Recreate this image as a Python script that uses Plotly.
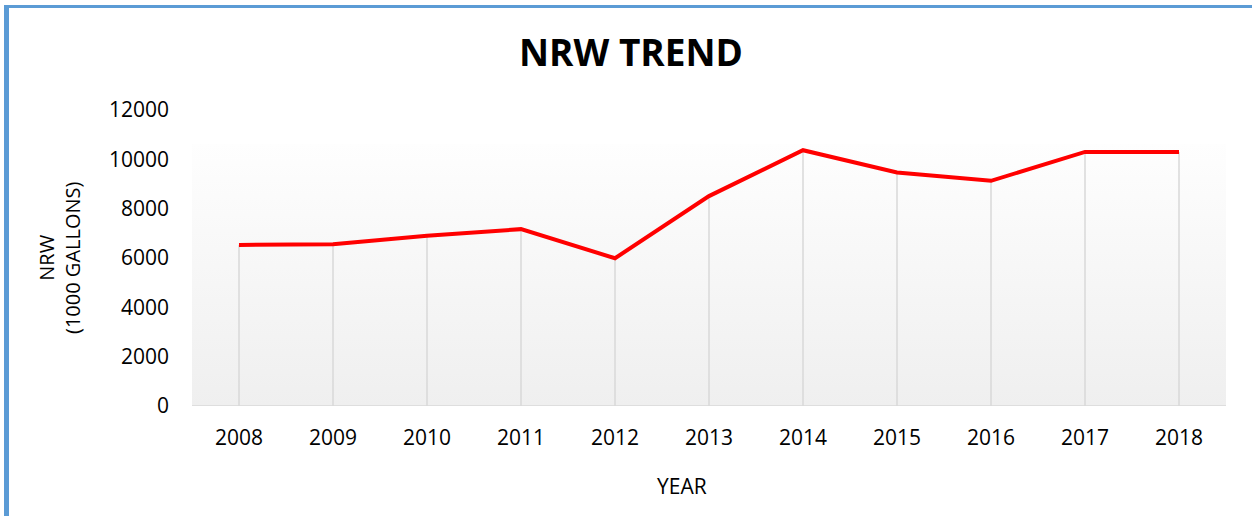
import plotly.graph_objs as go

years = ['2008', '2009', '2010', '2011', '2012', '2013', '2014', '2015', '2016', '2017', '2018']
nrw = [6530, 6560, 6900, 7170, 5990, 8510, 10370, 9470, 9130, 10300, 10300]
y_ticks = [0, 2000, 4000, 6000, 8000, 10000, 12000]
band_top = 10620  # top of the shaded plot band

FONT = 'Open Sans'
L, R, T, B = 192, 26, 110, 110
W, H = 1252, 516


def px_x(px):
    return (px - L) / (W - L - R)


def px_y(py):
    return (H - B - py) / (H - T - B)


idx = list(range(len(years)))

fig = go.Figure()

# shaded band behind the line
fig.add_trace(go.Scatter(
    x=[-0.5, len(years) - 0.5],
    y=[band_top, band_top],
    mode='lines',
    line=dict(width=0),
    fill='tozeroy',
    fillgradient=dict(type='vertical',
                      colorscale=[[0, '#efefef'], [1, '#fefefe']]),
    hoverinfo='skip',
    showlegend=False,
))

# drop lines from each point down to zero
drop_x, drop_y = [], []
for i, v in zip(idx, nrw):
    drop_x += [i, i, None]
    drop_y += [0, v, None]
fig.add_trace(go.Scatter(
    x=drop_x, y=drop_y,
    mode='lines',
    line=dict(color='#d9d9d9', width=1.5),
    hoverinfo='skip',
    showlegend=False,
))

fig.add_trace(go.Scatter(
    x=idx, y=nrw,
    mode='lines',
    line=dict(color='#ff0000', width=4),
    name='NRW',
    showlegend=False,
))

fig.update_layout(
    width=W, height=H,
    margin=dict(l=L, r=R, t=T, b=B),
    paper_bgcolor='white',
    plot_bgcolor='white',
    font=dict(family=FONT, color='#000000', size=21),
    title=dict(text='<b>NRW TREND</b>', x=px_x(631), xref='paper', xanchor='center',
               y=1 - 53 / H, yanchor='middle',
               font=dict(family=FONT, size=37, color='#000000')),
    xaxis=dict(
        range=[-0.5, len(years) - 0.5],
        tickvals=idx, ticktext=years,
        showgrid=False, zeroline=False,
        showline=False, ticks='',
        ticklabelstandoff=17,
        fixedrange=True,
    ),
    yaxis=dict(
        range=[0, 12000],
        tickvals=y_ticks,
        ticktext=[str(t) for t in y_ticks],
        showgrid=False, zeroline=False,
        showline=False, ticks='',
        ticklabelstandoff=22,
        fixedrange=True,
    ),
    shapes=[
        # x axis line
        dict(type='line', xref='paper', yref='y', x0=0, x1=1, y0=0, y1=0,
             line=dict(color='#d9d9d9', width=1.5), layer='above'),
        # blue frame (left and top)
        dict(type='line', xref='paper', yref='paper',
             x0=px_x(6.5), x1=px_x(6.5), y0=px_y(5), y1=px_y(H + 5),
             line=dict(color='#5b9bd5', width=5)),
        dict(type='line', xref='paper', yref='paper',
             x0=px_x(4), x1=px_x(W + 5), y0=px_y(6.5), y1=px_y(6.5),
             line=dict(color='#5b9bd5', width=3)),
    ],
    annotations=[
        dict(text='NRW<br>(1000 GALLONS)', xref='paper', yref='paper',
             x=px_x(59), y=px_y(258), xanchor='center', yanchor='middle',
             textangle=-90, showarrow=False,
             font=dict(family=FONT, size=20, color='#000000')),
        dict(text='YEAR', xref='paper', yref='paper',
             x=px_x(682), y=px_y(486), xanchor='center', yanchor='middle',
             showarrow=False,
             font=dict(family=FONT, size=21, color='#000000')),
    ],
)

fig.write_html('out.html', config={'displayModeBar': False},
               post_script="document.body.style.margin='0';")
